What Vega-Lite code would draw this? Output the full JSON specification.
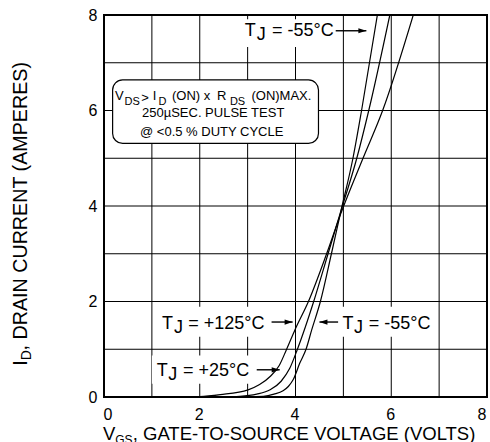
{
  "$schema": "https://vega.github.io/schema/vega-lite/v6.json",
  "width": 383,
  "height": 382,
  "autosize": {"type": "none"},
  "padding": {"left": 104, "top": 15, "right": 3, "bottom": 45},
  "background": "white",
  "datasets": {
    "grid": [
      {"v": 1, "i": 0, "v2": 1, "i2": 8},
      {"v": 2, "i": 0, "v2": 2, "i2": 8},
      {"v": 3, "i": 0, "v2": 3, "i2": 8},
      {"v": 4, "i": 0, "v2": 4, "i2": 8},
      {"v": 5, "i": 0, "v2": 5, "i2": 8},
      {"v": 6, "i": 0, "v2": 6, "i2": 8},
      {"v": 7, "i": 0, "v2": 7, "i2": 8},
      {"v": 0, "i": 1, "v2": 8, "i2": 1},
      {"v": 0, "i": 2, "v2": 8, "i2": 2},
      {"v": 0, "i": 3, "v2": 8, "i2": 3},
      {"v": 0, "i": 4, "v2": 8, "i2": 4},
      {"v": 0, "i": 5, "v2": 8, "i2": 5},
      {"v": 0, "i": 6, "v2": 8, "i2": 6},
      {"v": 0, "i": 7, "v2": 8, "i2": 7}
    ],
    "curves": [
      {"temp": "-55", "v": 0, "i": 0},
      {"temp": "-55", "v": 2.5, "i": 0},
      {"temp": "-55", "v": 3.0, "i": 0.003},
      {"temp": "-55", "v": 3.33, "i": 0.015},
      {"temp": "-55", "v": 3.55, "i": 0.06},
      {"temp": "-55", "v": 3.74, "i": 0.13},
      {"temp": "-55", "v": 3.85, "i": 0.22},
      {"temp": "-55", "v": 3.95, "i": 0.36},
      {"temp": "-55", "v": 4.09, "i": 0.71},
      {"temp": "-55", "v": 4.22, "i": 1.0},
      {"temp": "-55", "v": 4.34, "i": 1.41},
      {"temp": "-55", "v": 4.52, "i": 2.0},
      {"temp": "-55", "v": 4.75, "i": 3.0},
      {"temp": "-55", "v": 4.95, "i": 3.9},
      {"temp": "-55", "v": 5.2, "i": 5.0},
      {"temp": "-55", "v": 5.38, "i": 6.0},
      {"temp": "-55", "v": 5.71, "i": 8.0},
      {"temp": "25", "v": 0, "i": 0},
      {"temp": "25", "v": 2.2, "i": 0.002},
      {"temp": "25", "v": 2.6, "i": 0.008},
      {"temp": "25", "v": 2.84, "i": 0.015},
      {"temp": "25", "v": 3.19, "i": 0.06},
      {"temp": "25", "v": 3.47, "i": 0.15},
      {"temp": "25", "v": 3.7, "i": 0.33},
      {"temp": "25", "v": 3.88, "i": 0.6},
      {"temp": "25", "v": 4.04, "i": 1.0},
      {"temp": "25", "v": 4.2, "i": 1.45},
      {"temp": "25", "v": 4.38, "i": 2.0},
      {"temp": "25", "v": 4.68, "i": 3.0},
      {"temp": "25", "v": 4.95, "i": 3.9},
      {"temp": "25", "v": 5.28, "i": 5.0},
      {"temp": "25", "v": 5.53, "i": 6.0},
      {"temp": "25", "v": 5.97, "i": 8.0},
      {"temp": "125", "v": 0, "i": 0},
      {"temp": "125", "v": 1.5, "i": 0.002},
      {"temp": "125", "v": 2.0, "i": 0.01},
      {"temp": "125", "v": 2.43, "i": 0.05},
      {"temp": "125", "v": 3.01, "i": 0.15},
      {"temp": "125", "v": 3.25, "i": 0.26},
      {"temp": "125", "v": 3.47, "i": 0.43},
      {"temp": "125", "v": 3.66, "i": 0.66},
      {"temp": "125", "v": 3.81, "i": 0.99},
      {"temp": "125", "v": 3.99, "i": 1.41},
      {"temp": "125", "v": 4.27, "i": 2.0},
      {"temp": "125", "v": 4.65, "i": 3.0},
      {"temp": "125", "v": 4.95, "i": 3.85},
      {"temp": "125", "v": 5.41, "i": 5.0},
      {"temp": "125", "v": 5.82, "i": 6.0},
      {"temp": "125", "v": 6.46, "i": 8.0}
    ],
    "masks": [
      {"v": 2.84, "v2": 4.93, "i": 7.91, "i2": 7.33},
      {"v": 1.13, "v2": 3.42, "i": 1.89, "i2": 1.26},
      {"v": 4.93, "v2": 6.91, "i": 1.89, "i2": 1.26},
      {"v": 1.0, "v2": 3.11, "i": 0.87, "i2": 0.28}
    ],
    "box": [
      {"v": 0.18, "v2": 4.48, "i": 6.64, "i2": 5.31}
    ],
    "arrows": [
      {"tail": 4.84, "v": 5.48, "i": 7.67, "dir": "right"},
      {"tail": 3.5, "v": 3.94, "i": 1.57, "dir": "right"},
      {"tail": 4.89, "v": 4.5, "i": 1.57, "dir": "left"},
      {"tail": 3.19, "v": 3.67, "i": 0.57, "dir": "right"}
    ],
    "labels": [
      {"kind": "tj", "text": "T", "v": 2.94, "i": 7.56},
      {"kind": "tj", "text": "J", "v": 3.19, "i": 7.47},
      {"kind": "tj", "text": "= -55°C", "v": 3.51, "i": 7.56},
      {"kind": "tj", "text": "T", "v": 1.21, "i": 1.42},
      {"kind": "tj", "text": "J", "v": 1.46, "i": 1.33},
      {"kind": "tj", "text": "= +125°C", "v": 1.76, "i": 1.42},
      {"kind": "tj", "text": "T", "v": 4.98, "i": 1.42},
      {"kind": "tj", "text": "J", "v": 5.22, "i": 1.33},
      {"kind": "tj", "text": "= -55°C", "v": 5.53, "i": 1.42},
      {"kind": "tj", "text": "T", "v": 1.1, "i": 0.446},
      {"kind": "tj", "text": "J", "v": 1.34, "i": 0.36},
      {"kind": "tj", "text": "= +25°C", "v": 1.65, "i": 0.446},
      {"kind": "noteL", "text": "V", "v": 0.23, "i": 6.22},
      {"kind": "noteSub", "text": "DS", "v": 0.43, "i": 6.12},
      {"kind": "noteL", "text": ">", "v": 0.78, "i": 6.18},
      {"kind": "noteL", "text": "I", "v": 1.02, "i": 6.22},
      {"kind": "noteSub", "text": "D", "v": 1.14, "i": 6.12},
      {"kind": "noteL", "text": "(ON) x", "v": 1.42, "i": 6.22},
      {"kind": "noteL", "text": "R", "v": 2.36, "i": 6.22},
      {"kind": "noteSub", "text": "DS", "v": 2.63, "i": 6.12},
      {"kind": "noteL", "text": "(ON)MAX.", "v": 3.08, "i": 6.22},
      {"kind": "note", "text": "250µSEC. PULSE TEST", "v": 2.28, "i": 5.86},
      {"kind": "note", "text": "@ <0.5 % DUTY CYCLE", "v": 2.25, "i": 5.47},
      {"kind": "xt", "text": "V", "v": -0.02, "i": -0.893},
      {"kind": "xsub", "text": "GS", "v": 0.235, "i": -0.98},
      {"kind": "xt", "text": ", GATE-TO-SOURCE VOLTAGE (VOLTS)", "v": 0.6, "i": -0.893},
      {"kind": "yt", "text": "I", "v": -1.618, "i": 0.655},
      {"kind": "ysub", "text": "D", "v": -1.535, "i": 0.77},
      {"kind": "yt", "text": ", DRAIN CURRENT (AMPERES)", "v": -1.618, "i": 0.975}
    ]
  },
  "encoding": {
    "x": {
      "field": "v",
      "type": "quantitative",
      "scale": {"domain": [0, 8], "nice": false},
      "axis": {
        "title": null,
        "grid": false,
        "values": [0, 2, 4, 6, 8],
        "labelPadding": 9,
        "labelOffset": -1,
        "tickSize": 0,
        "domain": false
      }
    },
    "y": {
      "field": "i",
      "type": "quantitative",
      "scale": {"domain": [0, 8], "nice": false},
      "axis": {
        "title": null,
        "grid": false,
        "values": [0, 2, 4, 6, 8],
        "labelPadding": 7,
        "tickSize": 0,
        "domain": false
      }
    }
  },
  "layer": [
    {
      "data": {"name": "grid"},
      "mark": {"type": "rule", "color": "black", "strokeWidth": 1},
      "encoding": {
        "x2": {"field": "v2"},
        "y2": {"field": "i2"}
      }
    },
    {
      "data": {"name": "masks"},
      "mark": {"type": "rect", "fill": "white", "stroke": null},
      "encoding": {
        "x2": {"field": "v2"},
        "y2": {"field": "i2"}
      }
    },
    {
      "data": {"name": "box"},
      "mark": {"type": "rect", "fill": "white", "stroke": "black", "strokeWidth": 1.2, "cornerRadius": 10},
      "encoding": {
        "x2": {"field": "v2"},
        "y2": {"field": "i2"}
      }
    },
    {
      "data": {"name": "curves"},
      "mark": {"type": "line", "color": "black", "strokeWidth": 1.2, "interpolate": "monotone", "clip": true},
      "encoding": {
        "detail": {"field": "temp", "type": "nominal"}
      }
    },
    {
      "data": {"name": "arrows"},
      "mark": {"type": "rule", "color": "black", "strokeWidth": 1.4},
      "encoding": {
        "x2": {"field": "tail"}
      }
    },
    {
      "data": {"name": "arrows"},
      "mark": {"type": "point", "filled": true, "color": "black", "opacity": 1, "size": 64, "strokeWidth": 0},
      "encoding": {
        "shape": {
          "field": "dir",
          "type": "nominal",
          "scale": {
            "domain": ["right", "left"],
            "range": ["M0,0L-2,-0.65L-2,0.65Z", "M0,0L2,-0.65L2,0.65Z"]
          },
          "legend": null
        }
      }
    },
    {
      "data": {"name": "labels"},
      "transform": [{"filter": "datum.kind === 'tj'"}],
      "mark": {"type": "text", "align": "left", "baseline": "alphabetic", "fontSize": 18, "color": "black"},
      "encoding": {"text": {"field": "text"}}
    },
    {
      "data": {"name": "labels"},
      "transform": [{"filter": "datum.kind === 'noteL'"}],
      "mark": {"type": "text", "align": "left", "baseline": "alphabetic", "fontSize": 13, "color": "black"},
      "encoding": {"text": {"field": "text"}}
    },
    {
      "data": {"name": "labels"},
      "transform": [{"filter": "datum.kind === 'noteSub'"}],
      "mark": {"type": "text", "align": "left", "baseline": "alphabetic", "fontSize": 11, "color": "black"},
      "encoding": {"text": {"field": "text"}}
    },
    {
      "data": {"name": "labels"},
      "transform": [{"filter": "datum.kind === 'note'"}],
      "mark": {"type": "text", "align": "center", "baseline": "alphabetic", "fontSize": 13, "color": "black"},
      "encoding": {"text": {"field": "text"}}
    },
    {
      "data": {"name": "labels"},
      "transform": [{"filter": "datum.kind === 'xt'"}],
      "mark": {"type": "text", "align": "left", "baseline": "alphabetic", "fontSize": 18.5, "color": "black"},
      "encoding": {"text": {"field": "text"}}
    },
    {
      "data": {"name": "labels"},
      "transform": [{"filter": "datum.kind === 'xsub'"}],
      "mark": {"type": "text", "align": "left", "baseline": "alphabetic", "fontSize": 12, "color": "black"},
      "encoding": {"text": {"field": "text"}}
    },
    {
      "data": {"name": "labels"},
      "transform": [{"filter": "datum.kind === 'yt'"}],
      "mark": {"type": "text", "align": "left", "baseline": "alphabetic", "fontSize": 19.7, "angle": 270, "color": "black"},
      "encoding": {"text": {"field": "text"}}
    },
    {
      "data": {"name": "labels"},
      "transform": [{"filter": "datum.kind === 'ysub'"}],
      "mark": {"type": "text", "align": "left", "baseline": "alphabetic", "fontSize": 14, "angle": 270, "color": "black"},
      "encoding": {"text": {"field": "text"}}
    }
  ],
  "config": {
    "font": "Liberation Sans",
    "view": {"stroke": "black", "strokeWidth": 2},
    "axis": {
      "labelFont": "Liberation Sans",
      "labelFontSize": 16,
      "labelColor": "black"
    }
  }
}
